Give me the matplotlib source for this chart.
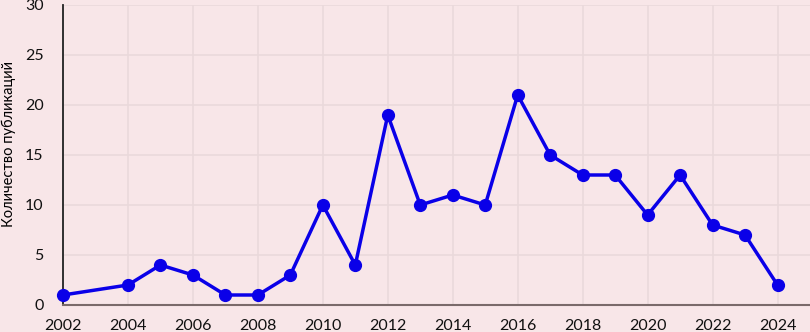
import matplotlib.pyplot as plt
import numpy as np

years = [2002, 2004, 2005, 2006, 2007, 2008, 2009, 2010, 2011, 2012, 2013,
         2014, 2015, 2016, 2017, 2018, 2019, 2020, 2021, 2022, 2023, 2024]
counts = [1, 2, 4, 3, 1, 1, 3, 10, 4, 19, 10, 11, 10, 21, 15, 13, 13, 9, 13, 8, 7, 2]
xticks = list(range(2002, 2025, 2))
yticks = [0, 5, 10, 15, 20, 25, 30]
ylabel = "Количество публикаций"

bg = "#f8e6e8"
plt.rcParams['font.family'] = ['Lato', 'DejaVu Sans']

fig = plt.figure(figsize=(8.1, 3.32), dpi=100, facecolor=bg)
ax = fig.add_axes([63 / 810, 27 / 332, 747 / 810, 300 / 332], facecolor=bg)

ax.plot(years, counts, color="#0a00e8", linewidth=2.5, marker="o",
        markersize=8.5, clip_on=False, zorder=3)

ax.set_xlim(2002, 2025)
ax.set_ylim(0, 30)
ax.set_xticks(xticks)
ax.set_yticks(yticks)
ax.tick_params(axis="both", length=0, labelsize=11.5, colors="#111111")
ax.tick_params(axis="x", pad=10)
ax.tick_params(axis="y", pad=14)
ax.grid(True, color="#ead9db", linewidth=1.2)
ax.set_axisbelow(True)

for s in ["top", "right"]:
    ax.spines[s].set_visible(False)
ax.spines["left"].set_color("#222222")
ax.spines["left"].set_linewidth(1.3)
ax.spines["bottom"].set_color("#7a6a6a")
ax.spines["bottom"].set_linewidth(1.5)

ax.set_ylabel(ylabel, fontsize=10.5)
ax.yaxis.set_label_coords(-0.063, 0.537)

fig.savefig("out.png", dpi=100, facecolor=bg)
